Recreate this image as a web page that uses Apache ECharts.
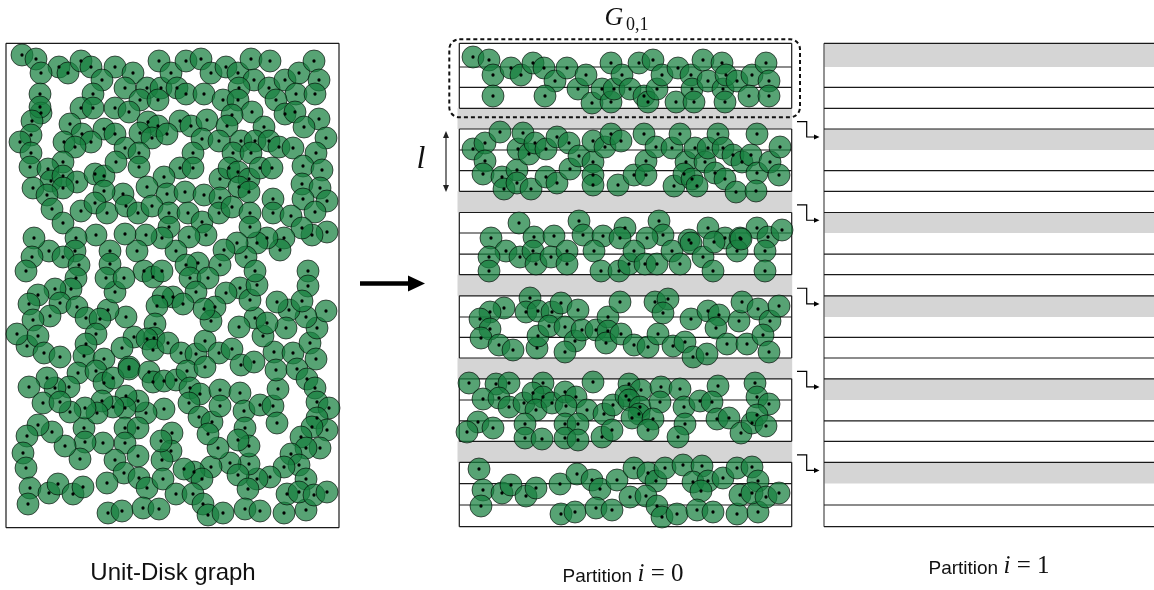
<!DOCTYPE html>
<html><head><meta charset="utf-8">
<script src="https://cdn.jsdelivr.net/npm/echarts@6/dist/echarts.min.js"></script>
<style>html,body{margin:0;padding:0;background:#fff}#c{width:1154px;height:590px}</style>
</head><body><div id="c"></div>
<script>
// ---- data: disk centres (diagram units) ----
const leftDisks = [
[22,55],[36,59],[59,67],[68,73],[41,73],[81,61],[91,67],[115,67],[102,80],[133,73],[125,88],[147,88],[161,88],[159,61],[171,73],[177,88],[186,61],[201,59],[211,73],[226,67],[238,73],[251,59],[270,61],[254,80],[239,88],[269,88],[285,80],[299,73],[314,61],[319,80],[296,94],[315,94],[40,94],[93,94],[186,94],[204,94],[140,100],[158,100],[223,100],[238,100],[276,100],[81,108],[93,108],[115,108],[129,112],[41,113],[40,107],[32,121],[252,112],[232,115],[285,114],[295,112],[319,119],[304,127],[148,122],[158,126],[180,121],[191,126],[207,120],[227,126],[264,127],[70,124],[82,134],[104,129],[115,134],[140,133],[152,138],[167,134],[202,139],[219,141],[241,141],[255,141],[269,141],[279,147],[293,148],[326,138],[64,142],[91,142],[31,135],[20,142],[31,153],[75,147],[125,148],[139,153],[193,153],[233,153],[251,153],[316,153],[63,162],[30,167],[48,169],[51,181],[63,176],[77,182],[95,174],[104,176],[116,162],[139,167],[180,168],[193,168],[220,179],[229,168],[238,172],[249,179],[239,187],[260,168],[272,168],[303,166],[322,170],[302,184],[320,188],[164,177],[147,187],[167,194],[185,192],[204,195],[220,198],[33,188],[63,188],[123,194],[104,191],[47,195],[273,199],[303,199],[327,201],[249,192],
[52,209],[63,223],[81,211],[95,203],[107,213],[126,206],[138,213],[152,206],[169,213],[188,213],[202,222],[219,213],[232,207],[250,213],[273,213],[291,216],[315,212],[327,232],[312,235],[302,228],[284,238],[280,250],[267,238],[257,243],[250,227],[246,257],[237,243],[224,250],[220,265],[206,235],[198,263],[189,237],[176,251],[169,227],[162,238],[146,235],[137,251],[125,234],[110,251],[96,235],[76,238],[75,251],[49,251],[63,257],[34,238],[32,257],[26,271],[79,265],[110,264],[144,271],[153,277],[162,271],[186,265],[190,278],[208,278],[196,292],[173,297],[163,297],[183,304],[157,306],[155,324],[154,338],[134,337],[126,317],[108,310],[115,292],[106,278],[124,278],[76,278],[71,289],[55,289],[38,295],[29,304],[60,303],[50,316],[33,320],[27,346],[17,334],[38,336],[44,353],[60,357],[77,307],[86,318],[100,319],[96,334],[86,344],[84,356],[104,359],[122,348],[129,367],[147,339],[153,350],[168,343],[181,353],[196,354],[205,341],[219,353],[232,349],[241,365],[254,362],[274,352],[293,353],[310,343],[316,359],[317,328],[326,311],[306,317],[289,310],[277,302],[286,328],[263,336],[255,318],[267,323],[239,327],[240,288],[250,300],[257,285],[255,271],[226,293],[215,307],[211,321],[204,309],[308,271],[308,286],[302,301],
[78,373],[96,371],[104,383],[113,378],[129,369],[149,372],[153,382],[164,381],[176,380],[187,371],[205,367],[190,388],[200,394],[220,390],[240,393],[189,403],[199,417],[212,422],[220,406],[244,411],[245,428],[260,405],[273,406],[277,423],[278,389],[276,370],[297,369],[307,379],[315,388],[317,402],[329,408],[317,418],[327,430],[312,427],[301,437],[320,448],[306,448],[291,454],[299,465],[306,479],[284,467],[270,477],[257,479],[249,464],[249,446],[238,440],[230,463],[238,475],[248,489],[211,467],[218,448],[208,434],[194,472],[202,479],[184,469],[172,433],[171,451],[162,460],[161,441],[164,409],[146,413],[138,401],[126,396],[125,408],[125,428],[138,428],[125,443],[138,456],[115,460],[124,473],[139,478],[147,488],[163,479],[176,494],[193,494],[203,504],[208,515],[223,513],[245,509],[260,511],[284,513],[306,510],[287,494],[299,492],[314,495],[327,492],[103,443],[84,428],[85,442],[80,459],[65,446],[52,432],[38,425],[27,436],[23,453],[26,468],[30,488],[28,504],[49,493],[58,484],[73,494],[83,487],[107,483],[108,513],[122,511],[143,508],[159,509],[113,407],[102,401],[97,413],[85,408],[70,412],[69,387],[55,388],[47,378],[29,387],[43,403],[60,402]
];
const stripGroup1 = [[473,57],[489,60],[493,75],[493,96],[511,68],[521,75],[533,63],[544,68],[555,81],[545,96],[567,68],[578,89],[586,75],[592,103],[602,89],[611,63],[611,102],[614,89],[622,75],[630,89],[639,63],[644,96],[653,60],[648,102],[657,89],[662,75],[676,102],[678,68],[691,75],[692,89],[694,102],[703,60],[708,81],[722,63],[723,89],[726,75],[725,102],[737,81],[752,75],[749,96],[766,63],[769,81],[769,96]];
const stripGroup2 = [[473,149],[485,143],[485,161],[483,174],[500,132],[502,177],[504,189],[518,149],[517,170],[517,183],[523,133],[529,154],[531,189],[535,143],[546,149],[546,177],[557,137],[557,183],[569,143],[570,169],[579,156],[593,162],[593,141],[593,175],[593,185],[605,147],[611,134],[621,141],[618,185],[634,175],[644,134],[646,161],[646,175],[656,147],[672,148],[674,186],[680,134],[686,162],[684,174],[692,179],[695,148],[697,186],[705,162],[708,148],[715,173],[718,134],[725,179],[723,148],[733,155],[736,192],[742,162],[751,155],[757,173],[756,191],[757,134],[770,162],[779,175],[780,147]];
const stripGroup3 = [[519,223],[579,221],[659,221],[708,228],[757,228],[491,238],[534,237],[554,236],[583,235],[603,236],[625,228],[620,238],[663,235],[647,238],[689,240],[725,238],[740,238],[768,237],[782,230],[506,251],[489,257],[489,271],[520,257],[533,251],[536,264],[551,257],[567,251],[567,264],[594,251],[601,271],[619,271],[629,264],[634,251],[645,264],[657,264],[672,251],[680,264],[691,243],[703,257],[713,271],[714,242],[737,251],[741,239],[765,251],[765,271]];
const stripGroup4 = [[530,298],[526,312],[538,311],[552,312],[561,303],[578,310],[504,308],[490,312],[480,319],[490,329],[481,338],[499,345],[513,350],[537,348],[538,336],[549,326],[565,327],[575,341],[565,352],[582,330],[596,330],[608,317],[608,331],[606,343],[620,302],[621,334],[634,345],[648,347],[655,302],[668,299],[663,313],[658,334],[673,346],[685,342],[691,319],[693,357],[707,354],[708,311],[719,315],[716,328],[727,344],[739,321],[742,302],[747,344],[758,309],[770,321],[763,335],[779,306],[769,352]];
const stripGroup5 = [[469,383],[496,384],[509,383],[543,383],[593,382],[629,384],[641,390],[661,387],[680,389],[718,386],[755,383],[483,399],[499,398],[509,407],[524,403],[533,393],[543,397],[536,410],[552,403],[565,392],[576,397],[566,406],[587,410],[604,414],[613,405],[626,396],[629,400],[640,407],[639,414],[660,402],[684,407],[700,401],[712,402],[757,397],[769,404],[478,422],[467,432],[493,428],[525,424],[525,438],[542,439],[565,424],[578,424],[565,438],[578,440],[602,437],[612,430],[632,418],[653,419],[648,430],[685,424],[678,437],[717,419],[729,418],[741,433],[752,423],[757,415],[766,426]];
const stripGroup6 = [[479,469],[483,490],[481,506],[502,493],[511,485],[526,496],[536,488],[560,484],[577,474],[592,480],[600,489],[617,480],[634,468],[648,473],[656,481],[665,468],[683,465],[702,466],[693,482],[708,481],[701,491],[723,478],[737,468],[752,467],[758,481],[630,497],[646,496],[657,506],[662,517],[677,514],[697,510],[713,512],[737,514],[758,512],[740,495],[752,493],[766,497],[779,493],[561,514],[575,512],[596,508],[612,510]];
// strip row boundaries (diagram units) and which rows are grey
const rowBounds = [43.3,67,87.3,108.3,129,150,170.7,191.3,212.5,233,254.2,274.7,295.8,317,337.3,358,378.8,400,420.8,441.3,462.3,483.6,505,526.7];
const midGreyRows = [3,7,11,15,19];
const rightGreyRows = [0,4,8,12,16,20];
// ---- labels ----
const labelLeft = 'Unit-Disk graph';
const labelMid = ['Partition ', 'i', ' = 0'];
const labelRight = ['Partition ', 'i', ' = 1'];
const labelG = ['G', '0,1'];
const labelL = 'l';

// ---- layout ----
const LP = {x0: 6, x1: 339, y0: 43.3, y1: 527.7};
const MP = {x0: 459.3, x1: 791.7};
const RP = {x0: 824, x1: 1154};

const allMid = [].concat(stripGroup1, stripGroup2, stripGroup3, stripGroup4, stripGroup5, stripGroup6);
const allDisks = leftDisks.concat(allMid);

const greyRects = [];
midGreyRows.forEach(r => greyRects.push([MP.x0 - 1.8, rowBounds[r], MP.x1 + 0.5, rowBounds[r + 1]]));
rightGreyRows.forEach(r => greyRects.push([RP.x0, rowBounds[r], RP.x1, rowBounds[r + 1]]));

const blackSegs = [];
blackSegs.push([LP.x0, LP.y0, LP.x1, LP.y0], [LP.x0, LP.y1, LP.x1, LP.y1], [LP.x0, LP.y0, LP.x0, LP.y1], [LP.x1, LP.y0, LP.x1, LP.y1]);
rowBounds.forEach(y => blackSegs.push([MP.x0, y, MP.x1, y]));
for (let g = 0; g < 6; g++) {
  const a = rowBounds[g * 4], b = rowBounds[g * 4 + 3];
  blackSegs.push([MP.x0, a, MP.x0, b], [MP.x1, a, MP.x1, b]);
}
rowBounds.forEach((y, i) => {
  if (rightGreyRows.indexOf(i - 1) >= 0) return;
  blackSegs.push([RP.x0, y, RP.x1, y]);
});
const greySegs = [[RP.x0, rowBounds[0], RP.x0, rowBounds[rowBounds.length - 1]]];

function rectItem(fill) {
  return function (params, api) {
    const a = api.coord([api.value(0), api.value(1)]);
    const b = api.coord([api.value(2), api.value(3)]);
    return {type: 'rect', shape: {x: a[0], y: a[1], width: b[0] - a[0], height: b[1] - a[1]}, style: {fill: fill}};
  };
}
function segItem(stroke, w) {
  return function (params, api) {
    const a = api.coord([api.value(0), api.value(1)]);
    const b = api.coord([api.value(2), api.value(3)]);
    return {type: 'line', shape: {x1: a[0], y1: a[1], x2: b[0], y2: b[1]}, style: {stroke: stroke, lineWidth: w}};
  };
}
function decorItem(params, api) {
  const c = p => api.coord(p);
  const ch = [];
  const b0 = c([449.3, 39.3]), b1 = c([800, 117.3]);
  ch.push({type: 'rect', shape: {x: b0[0], y: b0[1], width: b1[0] - b0[0], height: b1[1] - b0[1], r: 10},
    style: {fill: 'none', stroke: '#111', lineWidth: 2, lineDash: [4, 3]}});
  const a0 = c([360, 283.5]), a1 = c([411, 283.5]);
  ch.push({type: 'line', shape: {x1: a0[0], y1: a0[1], x2: a1[0], y2: a1[1]}, style: {stroke: '#000', lineWidth: 4.5}});
  ch.push({type: 'polygon', shape: {points: [c([425, 283.5]), c([408, 275.5]), c([408, 291.5])]}, style: {fill: '#000'}});
  const d0 = c([446, 135]), d1 = c([446, 188]);
  ch.push({type: 'line', shape: {x1: d0[0], y1: d0[1], x2: d1[0], y2: d1[1]}, style: {stroke: '#444', lineWidth: 1.4}});
  ch.push({type: 'polygon', shape: {points: [c([446, 131]), c([443, 138]), c([449, 138])]}, style: {fill: '#222'}});
  ch.push({type: 'polygon', shape: {points: [c([446, 192]), c([443, 185]), c([449, 185])]}, style: {fill: '#222'}});
  midGreyRows.forEach((r, k) => {
    const t = (rowBounds[r] + rowBounds[r + 1]) / 2 + 3;
    const rr = rightGreyRows[k + 1];
    const bb = (rowBounds[rr] + rowBounds[rr + 1]) / 2 - 2.5;
    ch.push({type: 'polyline', shape: {points: [c([797, t]), c([806.7, t]), c([806.7, bb]), c([815, bb])]},
      style: {stroke: '#000', lineWidth: 1.2, fill: 'none'}});
    ch.push({type: 'polygon', shape: {points: [c([819.5, bb]), c([814, bb - 2.6]), c([814, bb + 2.6])]}, style: {fill: '#000'}});
  });
  return {type: 'group', children: ch};
}

const chart = echarts.init(document.getElementById('c'), null, {renderer: 'canvas'});
const sans = "'Liberation Sans', Arial, Helvetica, sans-serif";
const serif = "'Liberation Serif', 'Times New Roman', serif";
const richStyle = {
  a: {fontFamily: sans, fontSize: 19, fill: '#111', verticalAlign: 'bottom'},
  b: {fontFamily: serif, fontStyle: 'italic', fontSize: 25, fill: '#111', verticalAlign: 'bottom'},
  c: {fontFamily: serif, fontSize: 25, fill: '#111', verticalAlign: 'bottom'}
};
chart.setOption({
  animation: false,
  backgroundColor: '#fff',
  grid: {left: 0, top: 0, width: 1154, height: 590, containLabel: false},
  xAxis: {type: 'value', min: 0, max: 1154, show: false},
  yAxis: {type: 'value', min: 0, max: 590, inverse: true, show: false},
  series: [
    {type: 'custom', name: 'grey', data: greyRects, renderItem: rectItem('#d5d5d5'), clip: false, silent: true},
    {type: 'custom', name: 'greyline', data: greySegs, renderItem: segItem('#6e6e6e', 1.5), clip: false, silent: true},
    {type: 'custom', name: 'lines', data: blackSegs, renderItem: segItem('#1a1a1a', 1.2), clip: false, silent: true},
    {type: 'scatter', name: 'disks', data: allDisks, symbol: 'circle', symbolSize: 22, clip: false, silent: true,
      itemStyle: {color: 'rgba(22,128,62,0.72)', borderColor: 'rgba(0,0,0,0.62)', borderWidth: 1, opacity: 1}},
    {type: 'scatter', name: 'centres', data: allDisks, symbol: 'circle', symbolSize: 3.3, clip: false, silent: true,
      itemStyle: {color: '#000', opacity: 1}},
    {type: 'custom', name: 'decor', data: [[0, 0]], renderItem: decorItem, clip: false, silent: true}
  ],
  graphic: [
    {type: 'text', x: 173, y: 573, style: {text: labelLeft, font: "24px " + sans, fill: '#111', align: 'center', verticalAlign: 'middle'}},
    {type: 'text', x: 623, y: 574, style: {text: '{a|' + labelMid[0] + '}{b|' + labelMid[1] + '}{c|' + labelMid[2] + '}',
      align: 'center', verticalAlign: 'middle', rich: richStyle}},
    {type: 'text', x: 989, y: 566, style: {text: '{a|' + labelRight[0] + '}{b|' + labelRight[1] + '}{c|' + labelRight[2] + '}',
      align: 'center', verticalAlign: 'middle', rich: richStyle}},
    {type: 'text', x: 614, y: 18, style: {text: labelG[0], font: "italic 26px " + serif, fill: '#111', align: 'center', verticalAlign: 'middle'}},
    {type: 'text', x: 626, y: 25, style: {text: labelG[1], font: "18px " + serif, fill: '#111', align: 'left', verticalAlign: 'middle'}},
    {type: 'text', x: 421, y: 160, style: {text: labelL, font: "italic 32px " + serif, fill: '#111', align: 'center', verticalAlign: 'middle'}}
  ]
});
</script></body></html>
